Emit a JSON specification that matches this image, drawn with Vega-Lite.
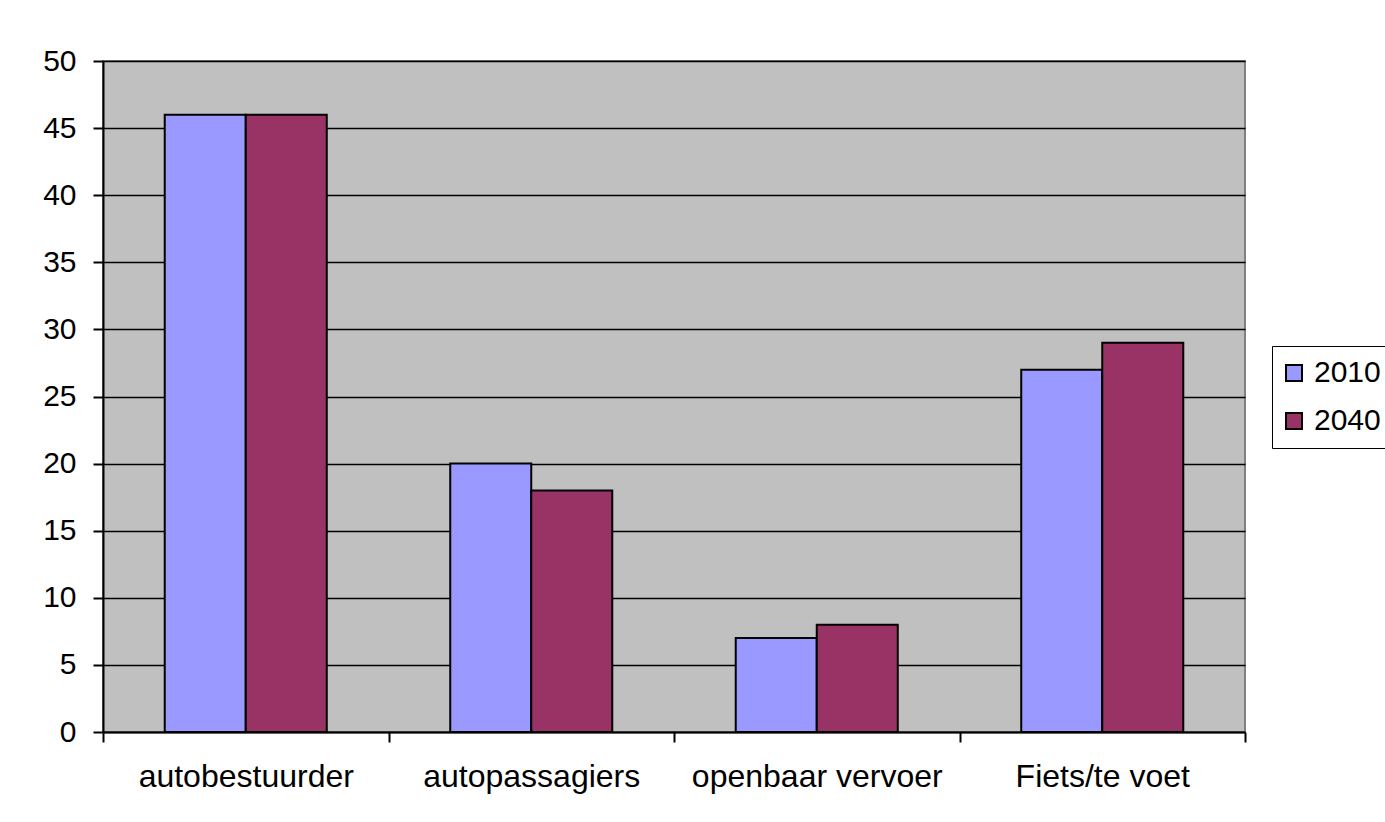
{
  "$schema": "https://vega.github.io/schema/vega-lite/v6.json",
  "autosize": {"type": "none"},
  "width": 1142,
  "height": 671,
  "padding": {"left": 103, "top": 61, "right": 140, "bottom": 90},
  "background": "white",
  "data": {"values": [
    {"cat": "autobestuurder", "year": "2010", "value": 46},
    {"cat": "autobestuurder", "year": "2040", "value": 46},
    {"cat": "autopassagiers", "year": "2010", "value": 20},
    {"cat": "autopassagiers", "year": "2040", "value": 18},
    {"cat": "openbaar vervoer", "year": "2010", "value": 7},
    {"cat": "openbaar vervoer", "year": "2040", "value": 8},
    {"cat": "Fiets/te voet", "year": "2010", "value": 27},
    {"cat": "Fiets/te voet", "year": "2040", "value": 29}
  ]},
  "mark": {"type": "bar", "stroke": "black", "strokeWidth": 2, "strokeOpacity": 1},
  "encoding": {
    "x": {
      "field": "cat", "type": "nominal", "sort": null,
      "scale": {"paddingInner": 0, "paddingOuter": 0},
      "axis": {
        "title": null, "labelAngle": 0, "labelFontSize": 32, "labelFont": "Liberation Sans",
        "labelColor": "black", "labelPadding": 19, "labelLimit": 0, "tickBand": "extent", "tickSize": 10,
        "tickColor": "black", "tickWidth": 2, "domainColor": "black", "domainWidth": 2, "grid": false
      }
    },
    "xOffset": {"field": "year", "type": "nominal", "scale": {"paddingInner": 0, "paddingOuter": 0.762}},
    "y": {
      "field": "value", "type": "quantitative",
      "scale": {"domain": [0, 50], "nice": false},
      "axis": {
        "title": null, "values": [0, 5, 10, 15, 20, 25, 30, 35, 40, 45, 50],
        "labelFontSize": 30, "labelFont": "Liberation Sans", "labelColor": "black",
        "labelPadding": 17, "tickSize": 10, "tickColor": "black", "tickWidth": 2,
        "domainColor": "black", "domainWidth": 2,
        "grid": true, "gridColor": "black", "gridWidth": 1.5, "gridOpacity": 1
      }
    },
    "color": {
      "field": "year", "type": "nominal",
      "scale": {"domain": ["2010", "2040"], "range": ["#9999FF", "#993366"]},
      "legend": {
        "title": null, "orient": "none", "legendX": 1169, "legendY": 285,
        "symbolType": "square", "symbolSize": 256, "symbolStrokeColor": "black", "symbolStrokeWidth": 2,
        "symbolOpacity": 1, "symbolOffset": -5,
        "labelFontSize": 30, "labelFont": "Liberation Sans", "labelColor": "black", "labelLimit": 0,
        "strokeColor": "black", "fillColor": "white", "padding": 12, "rowPadding": 18, "labelOffset": 5
      }
    }
  },
  "config": {
    "view": {"fill": "#C0C0C0", "stroke": "#808080", "strokeWidth": 2},
    "axis": {"labelFont": "Liberation Sans"}
  }
}
